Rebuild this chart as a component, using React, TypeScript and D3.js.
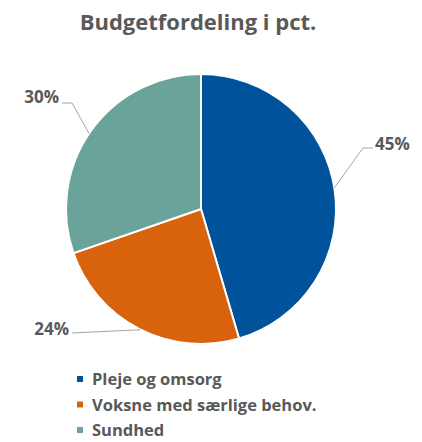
import React from "react";
import * as d3 from "d3";

const categories = ["Pleje og omsorg", "Voksne med særlige behov.", "Sundhed"];
const values = [45, 24, 30];
const labels = ["45%", "24%", "30%"];
const colors = ["#00539b", "#d9620c", "#6aa39a"];
const title = "Budgetfordeling i pct.";

export default function App() {
  const W = 422, H = 442;
  const cx = 201, cy = 209, r = 135;
  const pie = d3.pie<number>().sort(null)(values);
  const arc = d3.arc<d3.PieArcDatum<number>>().innerRadius(0).outerRadius(r);
  const font = "'Open Sans', sans-serif";
  const txt = "#595959";

  // leader line configs: angle on the pie edge (deg, clockwise from top), elbow, end, text pos
  const leaderCfg = [
    { angle: 81, elbow: [363, 148], end: [373, 148], text: [375, 150], anchor: "start" },
    { angle: 206.6, elbow: [72, 333], end: [72, 333], text: [69, 335], anchor: "end" },
    { angle: 304, elbow: [72, 103], end: [62, 103], text: [59, 103], anchor: "end" },
  ];

  return (
    <svg width={W} height={H} style={{ position: "absolute", left: 0, top: 0 }}>
      <rect width={W} height={H} fill="#fff" />
      <text x={198} y={30} textAnchor="middle" fontFamily={font} fontWeight={700} fontSize={22} fill={txt}>
        {title}
      </text>
      <g transform={`translate(${cx},${cy})`}>
        {pie.map((d, i) => (
          <path key={i} d={arc(d) || ""} fill={colors[i]} stroke="#fff" strokeWidth={2} />
        ))}
      </g>
      {pie.map((d, i) => {
        const c = leaderCfg[i];
        const a = (c.angle * Math.PI) / 180;
        const px = cx + r * Math.sin(a);
        const py = cy - r * Math.cos(a);
        return (
          <g key={"l" + i}>
            <polyline
              points={`${px},${py} ${c.elbow[0]},${c.elbow[1]} ${c.end[0]},${c.end[1]}`}
              fill="none"
              stroke="#a6a6a6"
              strokeWidth={1}
            />
            <text x={c.text[0]} y={c.text[1]} textAnchor={c.anchor as any} fontFamily={font} fontWeight={700} fontSize={17} fill={txt}>
              {labels[i]}
            </text>
          </g>
        );
      })}
      {categories.map((c, i) => (
        <g key={"lg" + i} transform={`translate(77,${379 + i * 25.5})`}>
          <rect x={0} y={-3} width={6} height={6} fill={colors[i]} />
          <text x={15} y={6} fontFamily={font} fontWeight={700} fontSize={16.5} fill={txt}>
            {c}
          </text>
        </g>
      ))}
    </svg>
  );
}
